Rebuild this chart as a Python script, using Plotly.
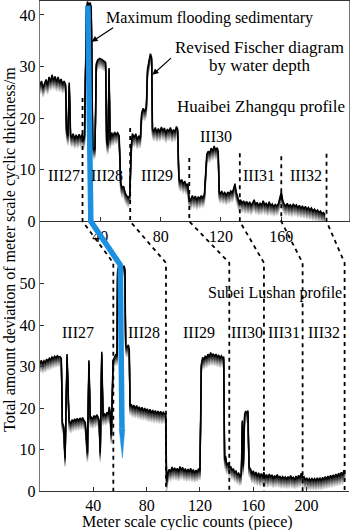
import plotly.graph_objects as go

# ---------------- data ----------------
# Huaibei Zhangqu profile (top panel)
TOP_X = [0, 1, 2, 3, 4, 5, 6, 7, 8, 9, 10, 11, 12, 13, 14, 15, 16,
         17.0, 17.6, 18.5, 19.4, 20.3, 21, 22, 23, 24, 25, 26, 27, 28, 28.8,
         29.5, 30.8, 31.5, 32.3, 33.2, 34.0, 35.0, 35.8,
         36.5, 37.3, 38.2, 39.5, 41, 42.5, 43.5, 44.2, 45, 45.8, 46.5, 47.5, 48.5, 49.5, 50.5, 51.5,
         52.5, 53.5, 54.5, 55.5, 56.5, 57.5, 58.5, 59.5,
         60.5, 61.3, 62.5, 63.5, 64.5, 65.5, 66.5,
         67.4, 68.3, 69.5, 70.5, 71.3, 72.2, 73.2, 74.0, 74.6,
         75.5, 76.5, 77.5, 78.5, 79.5, 80.5, 81.5, 82.5, 83.5, 84.5, 85.5, 86.5, 87.5, 88.5, 89.5, 90.5, 91.3,
         92.1, 93, 94, 95, 96, 97, 98,
         98.8, 100, 101, 102, 103, 104, 105, 106, 107, 108, 109,
         110, 110.6, 111.5, 112.5, 113.5, 114.5, 115.5, 116.5, 117.5, 118.2,
         118.8, 119.5, 120.5, 121.5, 122.5, 123.5, 124.5, 125.5, 126.5, 127.5, 128.5, 129.3, 130,
         131, 132, 133, 134, 135, 136, 137, 138, 139, 140, 141, 142, 143, 144, 145, 146, 147, 148,
         149, 150, 151, 152, 153, 154, 155, 156, 157,
         158, 159, 160, 161, 162,
         163, 164, 165, 166, 167, 168, 169, 170, 171, 172, 173, 174, 175, 176, 177, 178, 179, 180,
         181, 182, 183, 184, 185, 186, 187, 188, 189]
TOP_Y = [26.5, 27.2, 25.9, 26.8, 27.5, 26.4, 28.0, 27.1, 28.4, 27.3, 28.1, 27.0, 28.0, 26.9, 27.6, 26.6, 27.2,
         26.5, 17.8, 16.5, 26.9, 16.8, 16.2, 17.0, 15.9, 16.8, 16.0, 16.9, 16.1, 17.0, 15.8,
         16.5, 41.0, 42.6, 41.8, 42.4, 41.5, 14.5, 13.8,
         14.2, 30.5, 31.3, 31.6, 31.4, 31.1, 30.8, 15.5, 14.8, 29.7, 15.8, 17.2, 16.5, 17.3, 16.8, 17.2,
         16.6, 7.5, 6.5, 6.8, 5.5, 5.0, 4.6, 5.0,
         14.5, 17.0, 16.2, 17.0, 15.8, 16.6, 16.0,
         21.0, 21.9, 21.3, 22.2, 29.5, 31.0, 32.5, 31.8, 18.0,
         17.4, 18.2, 17.2, 18.0, 17.3, 18.3, 17.5, 18.1, 17.0, 17.9, 17.4, 18.2, 17.1, 17.8, 17.3, 18.4, 17.8,
         8.5, 7.6, 8.1, 7.2, 7.8, 7.0, 7.3,
         4.6, 4.2, 5.0, 4.3, 4.9, 4.1, 4.8, 4.4, 5.0, 4.5, 5.2,
         9.0, 13.0, 13.6, 13.2, 14.2, 13.6, 14.6, 13.8, 14.3, 13.5,
         5.8, 5.3, 5.9, 5.2, 5.6, 5.0, 5.7, 5.3, 5.9, 5.5, 6.5, 7.3, 5.8,
         4.5, 3.8, 4.2, 3.5, 4.0, 3.3, 3.9, 3.2, 3.8, 3.1, 3.6, 4.2, 3.2, 3.7, 3.0, 3.6, 3.1, 4.0,
         3.2, 3.5, 2.9, 3.8, 3.0, 3.4, 2.8, 3.3, 3.0,
         3.4, 4.5, 5.7, 4.0, 3.3,
         3.0, 3.5, 2.8, 3.3, 2.7, 3.4, 2.9, 3.2, 2.6, 3.1, 2.5, 3.0, 2.4, 2.9, 2.3, 2.7, 2.2, 2.6,
         2.0, 2.4, 1.9, 2.2, 1.7, 2.0, 1.5, 1.7, 1.2]

# Subei Lushan profile (bottom panel)
BOT_X = [0, 1, 2, 3, 4, 5, 6, 7, 8, 9, 10, 11, 12, 13, 14, 15, 16,
         16.8, 17.8, 18.8, 20.3, 21.8, 23,
         24, 25, 26, 27, 28, 29, 30, 31, 32, 33, 34,
         35.6, 36.7, 37.7, 38.5, 39.5, 40.5, 41.5, 42.5, 43.5,
         44.4, 45.2, 46.3, 47.3, 48.3, 49.3, 50.3, 51.3, 52, 52.6,
         53.5, 54.8, 56, 57, 57.8,
         58.2, 59, 60, 61, 62, 63, 63.7,
         64.3, 65.2, 66.3, 67,
         67.5, 68.5, 69.5, 70.5, 71.5, 72.5, 73.5, 74.5, 75.5, 76.5, 77.5, 78.5, 79.5, 80.5, 81.5,
         82.5, 83.5, 84.5, 85.5, 86.5, 87.5, 88.5, 89.5, 90.5, 91.5, 92.5, 93.5, 94.3,
         95, 96, 97, 98, 99, 100,
         101, 102, 103, 104, 105, 106, 107, 108, 109, 110, 111, 112, 113, 114, 115, 116, 117, 118, 119, 120,
         121, 122, 123, 124, 125, 126, 127, 128, 129, 130, 131, 132, 133, 134, 135, 136, 137, 137.8,
         138.5, 139.2, 140, 141, 142, 143, 144, 145, 146, 147, 148, 149, 150,
         151, 151.8, 152.5, 153.5, 154.3, 155.2, 156, 156.8,
         158, 159, 160, 161, 162, 163, 164, 165, 166, 167, 168, 169, 170, 171, 172, 173, 174, 175,
         176, 177, 178, 179, 180, 181, 182, 183, 184, 185, 186, 187, 188, 189, 190, 191, 192, 193,
         194, 195, 196, 197, 198, 199, 200, 201, 202, 203, 204, 205, 206, 207, 208, 209, 210, 211,
         212, 213, 214, 215, 216, 217, 218, 219, 220, 221, 222, 223, 224, 225, 226, 227, 228, 229]
BOT_Y = [30.8, 31.5, 30.6, 31.4, 31.0, 31.8, 31.3, 32.0, 31.6, 32.3, 31.9, 32.5, 32.1, 32.6, 32.3, 32.4, 32.0,
         16.5, 15.5, 8.0, 33.0, 17.0, 16.2,
         17.2, 16.6, 17.4, 16.8, 17.5, 16.9, 17.6, 17.1, 17.7, 17.0, 16.5,
         9.2, 31.5, 17.5, 17.8, 17.3, 18.2, 17.6, 18.4, 17.9,
         17.0, 9.3, 33.6, 18.0, 18.6, 18.2, 19.0, 18.5, 20.3, 19.0,
         13.5, 31.5, 32.2, 33.0, 32.5,
         53.0, 54.2, 53.6, 54.5, 53.8, 54.3, 53.5,
         35.0, 34.6, 35.2, 34.0,
         20.5, 20.9, 20.0, 20.7, 19.8, 20.6, 19.7, 20.3, 19.4, 20.2, 19.3, 20.0, 19.2, 19.8, 18.9,
         19.7, 18.8, 19.5, 18.7, 19.4, 18.6, 19.3, 18.5, 19.2, 18.4, 19.0, 18.6, 18.5,
         2.3, 4.5, 5.2, 4.6, 5.8, 4.9,
         5.6, 4.8, 5.5, 4.6, 5.9, 5.0, 5.7, 4.7, 5.4, 4.5, 5.3, 4.6, 5.5, 4.4, 5.2, 4.3, 5.0, 4.5, 5.4, 4.8,
         30.5, 32.2, 31.6, 32.6, 32.0, 33.0, 32.3, 33.4, 32.5, 33.1, 32.4, 33.0, 32.2, 32.8, 32.0, 32.6, 32.1, 32.4,
         7.6, 8.5, 6.3, 6.8, 5.6, 6.0, 5.0, 5.4, 4.5, 4.8, 3.9, 4.3, 3.6,
         4.0, 17.0, 6.0, 18.5, 19.3, 18.7, 19.4, 5.8,
         5.3, 4.1, 4.9, 3.8, 4.6, 3.5, 4.4, 3.3, 4.2, 3.4, 4.5, 3.2, 4.0, 3.1, 4.1, 3.3, 3.9, 3.0,
         3.7, 3.2, 4.0, 3.1, 3.6, 2.9, 3.5, 3.0, 3.4, 2.8, 3.5, 2.9, 3.7, 3.0, 3.3, 2.7, 3.6, 2.9,
         3.8, 3.1, 4.3, 3.2, 3.5, 2.6, 3.2, 2.5, 3.0, 2.4, 3.1, 2.5, 3.0, 2.4, 3.2, 2.6, 3.1, 2.5,
         3.3, 2.7, 3.5, 2.8, 3.6, 3.0, 3.8, 3.1, 3.9, 3.3, 4.1, 3.4, 4.3, 3.6, 4.5, 3.8, 5.0, 4.6]

# sequence boundaries (dashed correlation lines)
SEQ_NAMES = ["III27", "III28", "III29", "III30", "III31", "III32"]
TOP_BOUND_X = [28.2, 59.8, 99.0, 132.5, 160.0, 190.0]
TOP_BOUND_YTOP = [23.9, 18.1, 12.3, 13.2, 12.6, 13.1]
BOT_BOUND_X = [55.0, 94.5, 142.0, 168.0, 197.0, 228.5]
BOT_BOUND_YTOP = [55, 55, 55, 55, 55, 55]

# sequence label positions
TOP_LABEL_X = [16.2, 44.1, 77.3, 116.8, 144.9, 176.1]
TOP_LABEL_Y = [8.8, 8.8, 8.8, 16.4, 8.8, 8.8]
BOT_LABEL_X = [28.7, 78.2, 118.9, 155.3, 182.7, 212.8]
BOT_LABEL_Y = [38.1, 38.1, 38.1, 38.1, 38.1, 38.1]

# maximum flooding correlation (blue)
BLUE_TOP = [(31.7, 41.8), (33.7, 0)]
BLUE_BOT = [(60.2, 54.5), (61.5, 15.0), (61.8, 8.0)]

TOP_XTICKS = [40, 80, 120, 160]
TOP_YTICKS = [0, 10, 20, 30, 40]
BOT_XTICKS = [40, 80, 120, 160, 200]
BOT_YTICKS = [0, 10, 20, 30, 40, 50]

# ---------------- layout geometry ----------------
W, H = 350, 530
MARG = dict(l=40, r=1, t=1, b=39)
PLOT_H = H - MARG["t"] - MARG["b"]
SPLIT = 0.5502
XT_RANGE = [0, 204.9]
YT_RANGE = [0, 42.7]
XB_RANGE = [0, 231.8]
YB_RANGE = [0, 65.0]

FONT = "Liberation Serif, Times New Roman, serif"
BLUE = "#1b8fe0"

def top_paper(x, y):
    return (x / XT_RANGE[1], SPLIT + (y / YT_RANGE[1]) * (1 - SPLIT))

def bot_paper(x, y):
    return (x / XB_RANGE[1], (y / YB_RANGE[1]) * SPLIT)

top_ppu = PLOT_H * (1 - SPLIT) / YT_RANGE[1]
bot_ppu = PLOT_H * SPLIT / YB_RANGE[1]

fig = go.Figure()

# shadow bands under curves
SHADES = ["#d8d8d8", "#c4c4c4", "#aaaaaa", "#8e8e8e", "#707070", "#555555", "#3c3c3c", "#262626"]
n = len(SHADES)
for i, col in enumerate(SHADES):
    off = (n - i) * 1.15
    fig.add_trace(go.Scatter(x=TOP_X, y=[v - off / top_ppu for v in TOP_Y], mode="lines",
                             line=dict(color=col, width=1.3), xaxis="x", yaxis="y",
                             hoverinfo="skip", showlegend=False))
    fig.add_trace(go.Scatter(x=BOT_X, y=[v - off / bot_ppu for v in BOT_Y], mode="lines",
                             line=dict(color=col, width=1.3), xaxis="x2", yaxis="y2",
                             hoverinfo="skip", showlegend=False))

fig.add_trace(go.Scatter(x=TOP_X, y=TOP_Y, mode="lines", line=dict(color="black", width=1.5),
                         xaxis="x", yaxis="y", showlegend=False, name="Huaibei Zhangqu"))
fig.add_trace(go.Scatter(x=BOT_X, y=BOT_Y, mode="lines", line=dict(color="black", width=1.5),
                         xaxis="x2", yaxis="y2", showlegend=False, name="Subei Lushan"))

shapes = []
# dashed correlation lines
for xt, yt, xb, yb in zip(TOP_BOUND_X, TOP_BOUND_YTOP, BOT_BOUND_X, BOT_BOUND_YTOP):
    p1 = top_paper(xt, yt)
    p2 = top_paper(xt, 0)
    p3 = bot_paper(xb, yb)
    p4 = bot_paper(xb, 0)
    path = f"M {p1[0]},{p1[1]} L {p2[0]},{p2[1]} L {p3[0]},{p3[1]} L {p4[0]},{p4[1]}"
    shapes.append(dict(type="path", xref="paper", yref="paper", path=path,
                       line=dict(color="black", width=1.8, dash="4px,4px")))

# blue line
pts = [top_paper(*p) for p in BLUE_TOP] + [bot_paper(*p) for p in BLUE_BOT[:2]]
path = "M " + " L ".join(f"{a},{b}" for a, b in pts)
shapes.append(dict(type="path", xref="paper", yref="paper", path=path,
                   line=dict(color=BLUE, width=5.5)))
# tapered tip
bx, by = BLUE_BOT[1]
tx, ty = BLUE_BOT[2]
half = 2.8 / (309 / XB_RANGE[1])
q1 = bot_paper(bx - half, by)
q2 = bot_paper(bx + half, by)
q3 = bot_paper(tx, ty)
shapes.append(dict(type="path", xref="paper", yref="paper",
                   path=f"M {q1[0]},{q1[1]} L {q2[0]},{q2[1]} L {q3[0]},{q3[1]} Z",
                   fillcolor=BLUE, line=dict(color=BLUE, width=0.5)))

annotations = []
for name, x, y in zip(SEQ_NAMES, TOP_LABEL_X, TOP_LABEL_Y):
    annotations.append(dict(text=name, x=x, y=y, xref="x", yref="y", showarrow=False,
                            font=dict(family=FONT, size=16, color="black")))
for name, x, y in zip(SEQ_NAMES, BOT_LABEL_X, BOT_LABEL_Y):
    annotations.append(dict(text=name, x=x, y=y, xref="x2", yref="y2", showarrow=False,
                            font=dict(family=FONT, size=16, color="black")))

annotations += [
    dict(text="Maximum flooding sedimentary", x=112.4, y=39.4, xref="x", yref="y", showarrow=False,
         font=dict(family=FONT, size=16, color="black")),
    dict(text="", x=34.2, y=34.8, xref="x", yref="y", showarrow=True, ax=23, ay=-15,
         arrowhead=2, arrowsize=1, arrowwidth=1.2, arrowcolor="black"),
    dict(text="Revised Fischer diagram", x=145.6, y=33.6, xref="x", yref="y", showarrow=False,
         font=dict(family=FONT, size=17, color="black")),
    dict(text="by water depth", x=145.6, y=30.3, xref="x", yref="y", showarrow=False,
         font=dict(family=FONT, size=17, color="black")),
    dict(text="", x=74.6, y=28.4, xref="x", yref="y", showarrow=True, ax=20, ay=-18,
         arrowhead=2, arrowsize=1, arrowwidth=1.2, arrowcolor="black"),
    dict(text="Huaibei Zhangqu profile", x=146.7, y=22.2, xref="x", yref="y", showarrow=False,
         font=dict(family=FONT, size=17, color="black")),
    dict(text="Subei Lushan profile", x=176.5, y=47.8, xref="x2", yref="y2", showarrow=False,
         font=dict(family=FONT, size=16, color="black")),
    dict(text="Total amount deviation of meter scale cyclic thickness/m", textangle=-90,
         x=-0.097, y=0.492, xref="paper", yref="paper", showarrow=False,
         xanchor="center", yanchor="middle", font=dict(family=FONT, size=16, color="black")),
    dict(text="Meter scale cyclic counts (piece)", x=0.476, y=-0.064, xref="paper", yref="paper",
         showarrow=False, xanchor="center", yanchor="middle",
         font=dict(family=FONT, size=16, color="black")),
]

axis_common = dict(showgrid=False, zeroline=False, showline=True, ticks="inside", ticklen=4,
                   tickwidth=1.2, tickcolor="#333", tickfont=dict(family=FONT, size=16, color="black"))

fig.update_layout(
    width=W, height=H, margin=MARG, paper_bgcolor="white", plot_bgcolor="white",
    showlegend=False,
    xaxis=dict(domain=[0, 1], anchor="y", range=XT_RANGE, tickvals=TOP_XTICKS,
               linecolor="#333", linewidth=1.4, mirror=True, **axis_common),
    yaxis=dict(domain=[SPLIT, 1], anchor="x", range=YT_RANGE, tickvals=TOP_YTICKS,
               linecolor="#777", linewidth=1.4, mirror=True, **axis_common),
    xaxis2=dict(domain=[0, 1], anchor="y2", range=XB_RANGE, tickvals=BOT_XTICKS,
                linecolor="#333", linewidth=1.4, **axis_common),
    yaxis2=dict(domain=[0, SPLIT], anchor="x2", range=YB_RANGE, tickvals=BOT_YTICKS,
                linecolor="#777", linewidth=1.4, **axis_common),
    shapes=shapes, annotations=annotations,
)

fig.write_html("out.html")
